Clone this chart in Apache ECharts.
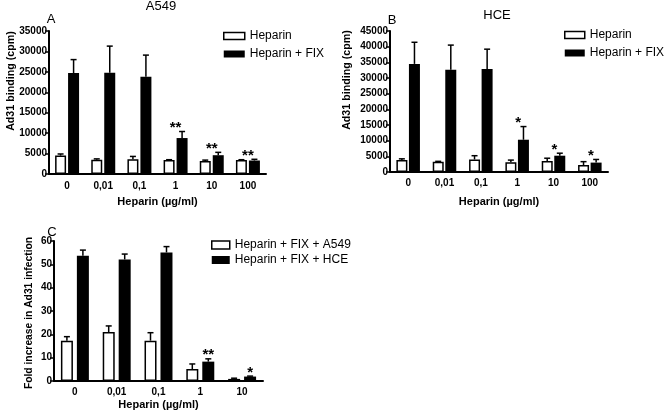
<!DOCTYPE html>
<html>
<head>
<meta charset="utf-8">
<script src="https://cdn.jsdelivr.net/npm/echarts@6/dist/echarts.min.js"></script>
<style>html,body{margin:0;padding:0;background:#fff}#c{width:664px;height:414px}</style>
</head>
<body>
<div id="c"></div>
<script>
// ---- data ----
const categoriesAB = ['0', '0,01', '0,1', '1', '10', '100'];
const categoriesC = ['0', '0,01', '0,1', '1', '10'];

const heparinA = [4500, 3500, 3600, 3400, 3200, 3400];
const heparinAErr = [400, 200, 700, 100, 200, 100];
const fixA = [24700, 24800, 23800, 8800, 4600, 3300];
const fixAErr = [3300, 6500, 5300, 1600, 700, 300];
const starsA = ['', '', '', '**', '**', '**'];

const heparinB = [3800, 3300, 4000, 3100, 3500, 2200];
const heparinBErr = [400, 100, 1200, 700, 900, 1100];
const fixB = [34500, 32600, 32900, 10300, 5200, 3000];
const fixBErr = [6900, 7900, 6300, 4200, 800, 1000];
const starsB = ['', '', '', '*', '*', '*'];

const a549C = [17.3, 21.0, 17.3, 5.1, 0.9];
const a549CErr = [1.7, 2.6, 3.4, 2.2, 0.3];
const hceC = [53.7, 52.1, 55.1, 8.3, 1.9];
const hceCErr = [2.4, 2.3, 2.5, 1.2, 0.2];
const starsC = ['', '', '', '**', '*'];

const yTicksA = {min: 0, max: 35000, interval: 5000};
const yTicksB = {min: 0, max: 45000, interval: 5000};
const yTicksC = {min: 0, max: 60, interval: 10};

const xName = 'Heparin (µg/ml)';
const yNameAB = 'Ad31 binding (cpm)';
const yNameC = 'Fold increase in Ad31 infection';

// ---- style ----
const FONT = "Liberation Sans";
const chart = echarts.init(document.getElementById('c'), null, {renderer: 'canvas'});

function xAxis(gi, cats, gap, margin) {
  return {
    type: 'category', gridIndex: gi, data: cats,
    name: xName, nameLocation: 'middle', nameGap: gap,
    nameTextStyle: {fontFamily: FONT, fontWeight: 'bold', fontSize: 11, color: '#000'},
    axisLine: {lineStyle: {color: '#000', width: 2}},
    axisTick: {alignWithLabel: true, length: 4, lineStyle: {color: '#000', width: 1.5}},
    axisLabel: {fontFamily: FONT, fontWeight: 'bold', fontSize: 10, color: '#000', margin: margin},
    splitLine: {show: false}
  };
}
function yAxis(gi, t) {
  return {
    type: 'value', gridIndex: gi, min: t.min, max: t.max, interval: t.interval,
    axisLine: {show: true, lineStyle: {color: '#000', width: 2}},
    axisTick: {show: true, length: 4, lineStyle: {color: '#000', width: 1.5}},
    axisLabel: {fontFamily: FONT, fontWeight: 'bold', fontSize: 10, color: '#000', margin: 2,
      formatter: function (v) { return String(v); }},
    splitLine: {show: false}
  };
}
function bars(name, vals, gi, white, bw, bg) {
  return {
    type: 'bar', name: name, xAxisIndex: gi, yAxisIndex: gi, data: vals,
    barWidth: bw, barGap: bg,
    itemStyle: white ? {color: '#fff', borderColor: '#000', borderWidth: 1.5} : {color: '#000'},
    emphasis: {disabled: true}, animation: false, z: 2
  };
}
function errs(vals, errsArr, stars, gi, offset, starOffset) {
  return {
    type: 'custom', xAxisIndex: gi, yAxisIndex: gi, animation: false, z: 5, silent: true,
    data: vals.map((v, i) => [i, v, errsArr[i]]),
    renderItem: function (params, api) {
      const i = api.value(0), v = api.value(1), e = api.value(2);
      const s = stars[params.dataIndex];
      const p0 = api.coord([i, v]);
      const p1 = api.coord([i, v + e]);
      const x = p0[0] + offset;
      const children = [
        {type: 'line', shape: {x1: x, y1: p0[1], x2: x, y2: p1[1]}, style: {stroke: '#000', lineWidth: 1.5}},
        {type: 'line', shape: {x1: x - 3, y1: p1[1], x2: x + 3, y2: p1[1]}, style: {stroke: '#000', lineWidth: 1.5}}
      ];
      if (s) {
        children.push({type: 'text', x: p0[0] + starOffset, y: p1[1] - 3.5,
          style: {text: s, fontFamily: FONT, fontWeight: 'bold', fontSize: 15, fill: '#000', align: 'center', verticalAlign: 'middle'}});
      }
      return {type: 'group', children: children};
    }
  };
}
function legend(left, top, names, gap, iw, ih) {
  return {
    left: left, top: top, orient: 'vertical', itemWidth: iw, itemHeight: ih, itemGap: gap,
    icon: 'rect', selectedMode: false, padding: 0,
    textStyle: {fontFamily: FONT, fontSize: 12, color: '#000'},
    data: [
      {name: names[0], itemStyle: {color: '#fff', borderColor: '#000', borderWidth: 1.5}},
      {name: names[1], itemStyle: {color: '#000'}}
    ]
  };
}
function txt(x, y, s, size, bold, rot) {
  return {type: 'text', x: x, y: y, rotation: rot || 0,
    style: {text: s, fontFamily: FONT, fontWeight: bold ? 'bold' : 'normal', fontSize: size, fill: '#000', align: 'center', verticalAlign: 'middle'}};
}

const option = {
  backgroundColor: '#fff',
  animation: false,
  grid: [
    {left: 49, top: 31, width: 217, height: 143, outerBoundsMode: 'none'},
    {left: 390, top: 31, width: 218, height: 141, outerBoundsMode: 'none'},
    {left: 54, top: 241, width: 209, height: 140, outerBoundsMode: 'none'}
  ],
  xAxis: [xAxis(0, categoriesAB, 22, 7), xAxis(1, categoriesAB, 24, 6), xAxis(2, categoriesC, 18, 6)],
  yAxis: [yAxis(0, yTicksA), yAxis(1, yTicksB), yAxis(2, yTicksC)],
  legend: [
    legend(223, 30, ['Heparin', 'Heparin + FIX'], 6, 21, 7),
    legend(564, 29, ['Heparin ', 'Heparin + FIX '], 6, 20, 7),
    legend(211, 239, ['Heparin + FIX + A549', 'Heparin + FIX + HCE'], 3, 18, 8)
  ],
  series: [
    bars('Heparin', heparinA, 0, true, 11, '18%'),
    bars('Heparin + FIX', fixA, 0, false, 11, '18%'),
    errs(heparinA, heparinAErr, ['', '', '', '', '', ''], 0, -6.5, 0),
    errs(fixA, fixAErr, starsA, 0, 6.5, 0),
    bars('Heparin ', heparinB, 1, true, 11, '14%'),
    bars('Heparin + FIX ', fixB, 1, false, 11, '14%'),
    errs(heparinB, heparinBErr, ['', '', '', '', '', ''], 1, -6.3, 0),
    errs(fixB, fixBErr, starsB, 1, 6.3, 1),
    bars('Heparin + FIX + A549', a549C, 2, true, 12, '33%'),
    bars('Heparin + FIX + HCE', hceC, 2, false, 12, '33%'),
    errs(a549C, a549CErr, ['', '', '', '', ''], 2, -8, 0),
    errs(hceC, hceCErr, starsC, 2, 8, 8)
  ],
  graphic: [
    txt(161, 6, 'A549', 13),
    txt(497, 15, 'HCE', 13),
    txt(51, 19, 'A', 13),
    txt(392, 20, 'B', 13),
    txt(52, 232, 'C', 13),
    txt(11, 81, yNameAB, 10.7, true, Math.PI / 2),
    txt(347, 80, yNameAB, 10.7, true, Math.PI / 2),
    txt(29, 313, yNameC, 10.3, true, Math.PI / 2)
  ]
};
chart.setOption(option);
</script>
</body>
</html>
